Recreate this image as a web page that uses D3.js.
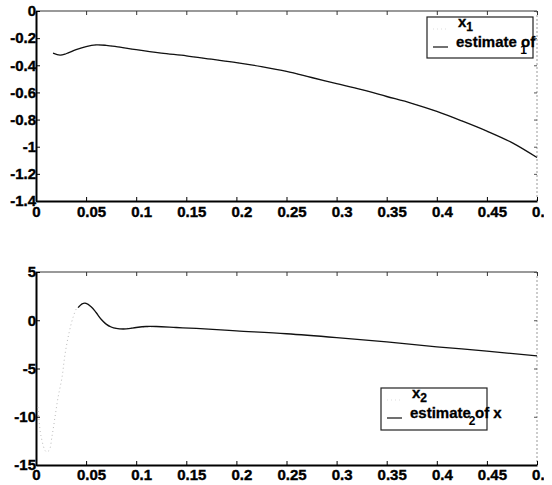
<!DOCTYPE html>
<html>
<head>
<meta charset="utf-8">
<script src="https://cdn.jsdelivr.net/npm/d3@7"></script>
<style>
body{margin:0;background:#fff;}
svg{display:block;}
text{font-family:"Liberation Sans",Arial,sans-serif;font-weight:bold;}
</style>
</head>
<body>
<svg id="c" width="552" height="485"></svg>
<script>
// ---- data ----
const xTicks = [0,0.05,0.1,0.15,0.2,0.25,0.3,0.35,0.4,0.45,0.5];
const xTickLabels = ["0","0.05","0.1","0.15","0.2","0.25","0.3","0.35","0.4","0.45","0.5"];
const y1Ticks = [0,-0.2,-0.4,-0.6,-0.8,-1,-1.2,-1.4];
const y1TickLabels = ["0","-0.2","-0.4","-0.6","-0.8","-1","-1.2","-1.4"];
const y2Ticks = [5,0,-5,-10,-15];
const y2TickLabels = ["5","0","-5","-10","-15"];

const t1 = [0.017,0.024,0.03,0.04,0.05,0.06,0.07,0.08,0.1,0.125,0.15,0.175,0.2,0.225,0.25,0.275,0.3,0.325,0.35,0.375,0.4,0.425,0.45,0.475,0.5];
const x1Est = [-0.31,-0.325,-0.315,-0.285,-0.262,-0.25,-0.253,-0.262,-0.285,-0.31,-0.33,-0.355,-0.38,-0.41,-0.445,-0.49,-0.535,-0.58,-0.63,-0.68,-0.74,-0.81,-0.885,-0.97,-1.08];
const x1True = [-0.31,-0.325,-0.315,-0.285,-0.262,-0.25,-0.253,-0.262,-0.285,-0.31,-0.33,-0.355,-0.38,-0.41,-0.445,-0.49,-0.535,-0.58,-0.63,-0.68,-0.74,-0.81,-0.885,-0.97,-1.08];

const t2 = [0.042,0.046,0.05,0.055,0.06,0.065,0.07,0.075,0.08,0.09,0.1,0.11,0.12,0.14,0.16,0.2,0.25,0.3,0.35,0.4,0.45,0.5];
const x2Est = [1.3,1.7,1.75,1.4,0.8,0.1,-0.4,-0.7,-0.85,-0.9,-0.75,-0.65,-0.65,-0.75,-0.85,-1.1,-1.4,-1.8,-2.25,-2.75,-3.2,-3.7];
const t2True = [0.002,0.005,0.01,0.013,0.016,0.019,0.022,0.026,0.029,0.033,0.037,0.041,0.046,0.05,0.055,0.06,0.065,0.07,0.08,0.1,0.12];
const x2True = [-9,-12,-13.6,-13.5,-12,-10,-8,-5.9,-3.5,-1.3,0.3,1.3,1.7,1.75,1.4,0.8,0.1,-0.4,-0.85,-0.75,-0.65];

// ---- drawing ----
const svg = d3.select("#c");
svg.append("defs").append("clipPath").attr("id","pageclip")
  .append("rect").attr("x",0).attr("y",0).attr("width",544).attr("height",485);
const root = svg.append("g").attr("clip-path","url(#pageclip)");

const x = d3.scaleLinear().domain([0,0.5]).range([36,537]);
const FS = 15;

function panel(yDomain, yRange, yTicks, yLabels, padX){
  const y = d3.scaleLinear().domain(yDomain).range(yRange);
  const g = root.append("g");
  const top = yRange[1], bot = yRange[0];
  g.append("line").attr("x1",x(0)).attr("x2",x(0.5)).attr("y1",top).attr("y2",top)
    .attr("stroke","#777").attr("stroke-width",1.5);
  g.append("line").attr("x1",x(0.5)).attr("x2",x(0.5)).attr("y1",top).attr("y2",bot)
    .attr("stroke","#999").attr("stroke-width",1).attr("stroke-dasharray","2,2");
  g.append("g").attr("transform",`translate(0,${top})`)
    .call(d3.axisTop(x).tickValues(xTicks).tickSize(-4).tickFormat(""))
    .call(a=>{a.select(".domain").remove();a.selectAll("line").attr("stroke","#333");});
  g.append("g").attr("transform",`translate(${x(0.5)},0)`)
    .call(d3.axisRight(y).tickValues(yTicks).tickSize(-3).tickFormat(""))
    .call(a=>{a.select(".domain").remove();a.selectAll("line").attr("stroke","#555");});
  g.append("g").attr("transform",`translate(0,${bot})`)
    .call(d3.axisBottom(x).tickValues(xTicks).tickSizeInner(-4).tickSizeOuter(0).tickPadding(padX)
      .tickFormat((d,i)=>xTickLabels[i]))
    .call(a=>{
      a.select(".domain").attr("stroke","#000").attr("stroke-width",2);
      a.selectAll("line").attr("stroke","#000");
      a.selectAll("text").attr("font-size",FS).attr("font-weight","bold").attr("fill","#000")
        .attr("stroke","#000").attr("stroke-width",0.4)
        .attr("font-family","Liberation Sans, Arial, sans-serif").attr("dx",(d,i)=>i===0?0:5);
    });
  g.append("g").attr("transform",`translate(${x(0)},0)`)
    .call(d3.axisLeft(y).tickValues(yTicks).tickSizeInner(-4).tickSizeOuter(0).tickPadding(0)
      .tickFormat((d,i)=>yLabels[i]))
    .call(a=>{
      a.select(".domain").attr("stroke","#000").attr("stroke-width",2);
      a.selectAll("line").attr("stroke","#000");
      a.selectAll("text").attr("font-size",FS).attr("font-weight","bold").attr("fill","#000")
        .attr("stroke","#000").attr("stroke-width",0.4)
        .attr("font-family","Liberation Sans, Arial, sans-serif");
    });
  return {g,y};
}

// top panel
const p1 = panel([-1.4,0],[201,11],y1Ticks,y1TickLabels,5);
const line1 = d3.line().curve(d3.curveCatmullRom).x((d,i)=>x(t1[i])).y(d=>p1.y(d));
p1.g.append("path").datum(x1True).attr("d",line1).attr("fill","none")
  .attr("stroke","#ccc").attr("stroke-width",1).attr("stroke-dasharray","1,3");
p1.g.append("path").datum(x1Est).attr("d",line1).attr("fill","none")
  .attr("stroke","#111").attr("stroke-width",1.3);

// bottom panel
const p2 = panel([-15,5],[465,272],y2Ticks,y2TickLabels,4);
const line2t = d3.line().curve(d3.curveCatmullRom).x((d,i)=>x(t2True[i])).y(d=>p2.y(d));
const line2 = d3.line().curve(d3.curveCatmullRom).x((d,i)=>x(t2[i])).y(d=>p2.y(d));
p2.g.append("path").datum(x2True).attr("d",line2t).attr("fill","none")
  .attr("stroke","#bbb").attr("stroke-width",1).attr("stroke-dasharray","1,3");
p2.g.append("path").datum(x2Est).attr("d",line2).attr("fill","none")
  .attr("stroke","#111").attr("stroke-width",1.3);

// legends
function legend(bx,by,bw,bh,n,extra){
  const g = root.append("g");
  g.append("rect").attr("x",bx).attr("y",by).attr("width",bw).attr("height",bh)
    .attr("fill","#fff").attr("stroke","#222").attr("stroke-width",1.2);
  const lx = bx+6;
  g.append("line").attr("x1",lx).attr("x2",lx+15).attr("y1",by+12).attr("y2",by+12)
    .attr("stroke","#ddd").attr("stroke-dasharray","1,3");
  g.append("line").attr("x1",lx).attr("x2",lx+15).attr("y1",by+30).attr("y2",by+30)
    .attr("stroke","#111").attr("stroke-width",1.2);
  const t = g.append("text").attr("x",bx+31).attr("y",by+10).attr("font-size",FS)
    .attr("stroke","#000").attr("stroke-width",0.3);
  t.append("tspan").text("x");
  t.append("tspan").attr("dy",4).attr("font-size",12).text(n);
  const t2 = g.append("text").attr("x",bx+29).attr("y",by+30).attr("font-size",FS)
    .attr("stroke","#000").attr("stroke-width",0.3)
    .text("estimate of" + extra);
  const w = t2.node().getComputedTextLength();
  const ofPos = bx+29 + w - (extra ? 33 : 15);
  g.append("text").attr("x",ofPos).attr("y",by+37).attr("font-size",12).text(n);
}
legend(427,17,106,41,"1","");
legend(381,388,106,42,"2"," x");
</script>
</body>
</html>
